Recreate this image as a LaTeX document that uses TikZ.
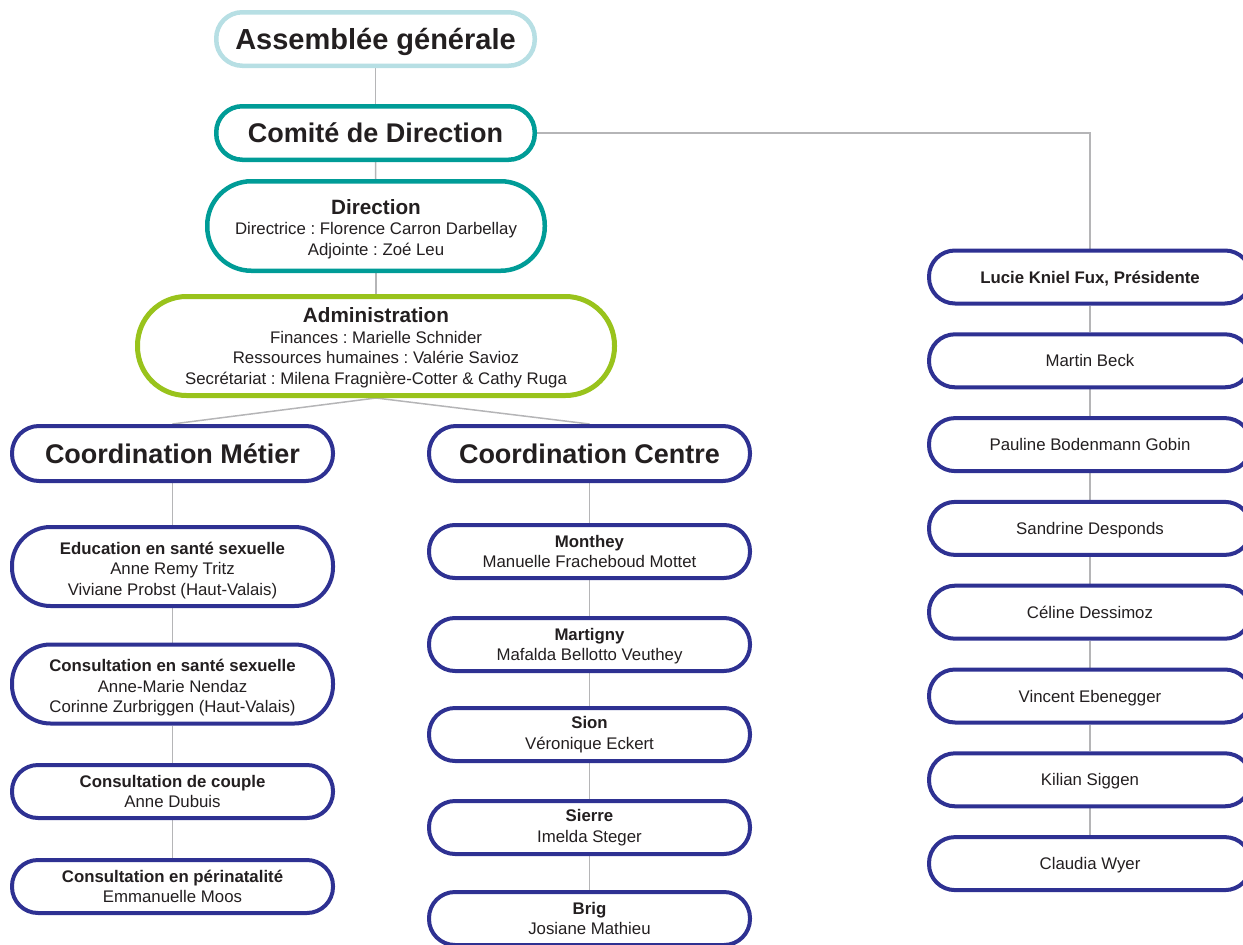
\documentclass[tikz,border=0pt]{standalone}
\usepackage{fontspec}
\setmainfont{Liberation Sans}
\frenchspacing
\usetikzlibrary{backgrounds}
\definecolor{lblue}{HTML}{B7DFE4}
\definecolor{teal}{HTML}{009C97}
\definecolor{lgreen}{HTML}{99C31C}
\definecolor{navy}{HTML}{2E3192}
\definecolor{txt}{HTML}{231F20}
\definecolor{conn}{HTML}{B5B5B7}
\newcommand{\topstrut}[1]{\rule{0pt}{#1}}
\begin{document}
\begin{tikzpicture}[x=1pt,y=-1pt,
  box/.style={draw, fill=white, rectangle, inner sep=0pt, align=center, text=txt,
    font=\fontsize{16.8}{20.5}\selectfont\frenchspacing},
  one/.style={text height=12pt, text depth=0pt},
  navybox/.style={box, draw=navy, line width=4pt},
  colw/.style={navybox, minimum width=321pt},
  rightw/.style={navybox, minimum width=322pt, minimum height=53pt, rounded corners=26pt, one},
  small/.style={colw, minimum height=53pt, rounded corners=26pt},
  tall/.style={colw, minimum height=79pt, rounded corners=38.5pt},
  coord/.style={colw, minimum height=55pt, rounded corners=27pt,
    font=\fontsize{27}{30}\selectfont\bfseries, text height=19.3pt, text depth=0pt},
  topbox/.style={box, line width=4.5pt, minimum width=318.5pt, minimum height=53.5pt,
    rounded corners=26pt},
  link/.style={draw=conn, line width=1.5pt}
]
\useasboundingbox (0,0) rectangle (1243,945);
\clip (0,0) rectangle (1243,945);

% top chain
\node[topbox, draw=lblue, font=\fontsize{29}{32}\selectfont\bfseries, text height=20.8pt, text depth=0pt]
  (ag) at (375.5,39) {Assemblée générale};
\node[topbox, draw=teal, font=\fontsize{27}{30}\selectfont\bfseries, text height=19.3pt, text depth=0pt]
  (cd) at (375.5,133) {Comité de Direction};
\node[box, draw=teal, line width=4.5pt, minimum width=337.5pt, minimum height=89.5pt, rounded corners=44pt]
  (dir) at (376,226) {\topstrut{21pt}{\fontsize{20.7}{20.5}\selectfont\bfseries Direction}\\Directrice : Florence Carron Darbellay\\Adjointe : Zoé Leu};
\node[box, draw=lgreen, line width=5pt, minimum width=477pt, minimum height=99pt, rounded corners=49pt]
  (adm) at (376,346) {\topstrut{18pt}{\fontsize{20.7}{20.5}\selectfont\bfseries Administration}\\Finances : Marielle Schnider\\Ressources humaines : Valérie Savioz\\Secrétariat : Milena Fragnière-Cotter \& Cathy Ruga};

% coordinations
\node[coord] (cm) at (172.5,453.5) {Coordination Métier};
\node[coord] (cc) at (589.5,453.5) {Coordination Centre};

% left column
\node[tall] (edu) at (172.5,566.5) {\topstrut{20pt}\textbf{Education en santé sexuelle}\\Anne Remy Tritz\\Viviane Probst (Haut-Valais)};
\node[tall] (cons) at (172.5,684) {\topstrut{20pt}\textbf{Consultation en santé sexuelle}\\Anne-Marie Nendaz\\Corinne Zurbriggen (Haut-Valais)};
\node[small] (couple) at (172.5,791.5) {\textbf{Consultation de couple}\\Anne Dubuis};
\node[small] (peri) at (172.5,886.5) {\textbf{Consultation en périnatalité}\\Emmanuelle Moos};

% middle column
\node[small] (monthey) at (589.5,551.5) {\textbf{Monthey}\\Manuelle Fracheboud Mottet};
\node[small] (martigny) at (589.5,644.5) {\topstrut{15.5pt}\textbf{Martigny}\\Mafalda Bellotto Veuthey};
\node[small] (sion) at (589.5,734.5) {\textbf{Sion}\\Véronique Eckert};
\node[small] (sierre) at (589.5,827.5) {\textbf{Sierre}\\Imelda Steger};
\node[small] (brig) at (589.5,918.5) {\textbf{Brig}\\Josiane Mathieu};

% right column
\node[rightw, font=\fontsize{16.8}{20.5}\selectfont\bfseries] (lucie) at (1090,277) {Lucie Kniel Fux, Présidente};
\node[rightw] (martin) at (1090,360.8) {Martin Beck};
\node[rightw] (pauline) at (1090,444.6) {Pauline Bodenmann Gobin};
\node[rightw] (sandrine) at (1090,528.4) {Sandrine Desponds};
\node[rightw] (celine) at (1090,612.2) {Céline Dessimoz};
\node[rightw] (vincent) at (1090,696) {Vincent Ebenegger};
\node[rightw] (kilian) at (1090,779.8) {Kilian Siggen};
\node[rightw] (claudia) at (1090,863.6) {Claudia Wyer};

\begin{scope}[on background layer]
  \draw[link] (ag) -- (cd);
  \draw[link] (cd) -- (dir);
  \draw[link] (dir) -- (adm);
  \draw[link] (adm.south) -- (cm.north);
  \draw[link] (adm.south) -- (cc.north);
  \draw[link] (cm) -- (edu);
  \draw[link] (edu) -- (cons);
  \draw[link] (cons) -- (couple);
  \draw[link] (couple) -- (peri);
  \draw[link] (cc) -- (monthey);
  \draw[link] (monthey) -- (martigny);
  \draw[link] (martigny) -- (sion);
  \draw[link] (sion) -- (sierre);
  \draw[link] (sierre) -- (brig);
  \draw[link] (cd.east) -| (lucie.north);
  \draw[link] (lucie) -- (martin);
  \draw[link] (martin) -- (pauline);
  \draw[link] (pauline) -- (sandrine);
  \draw[link] (sandrine) -- (celine);
  \draw[link] (celine) -- (vincent);
  \draw[link] (vincent) -- (kilian);
  \draw[link] (kilian) -- (claudia);
\end{scope}
\end{tikzpicture}
\end{document}
